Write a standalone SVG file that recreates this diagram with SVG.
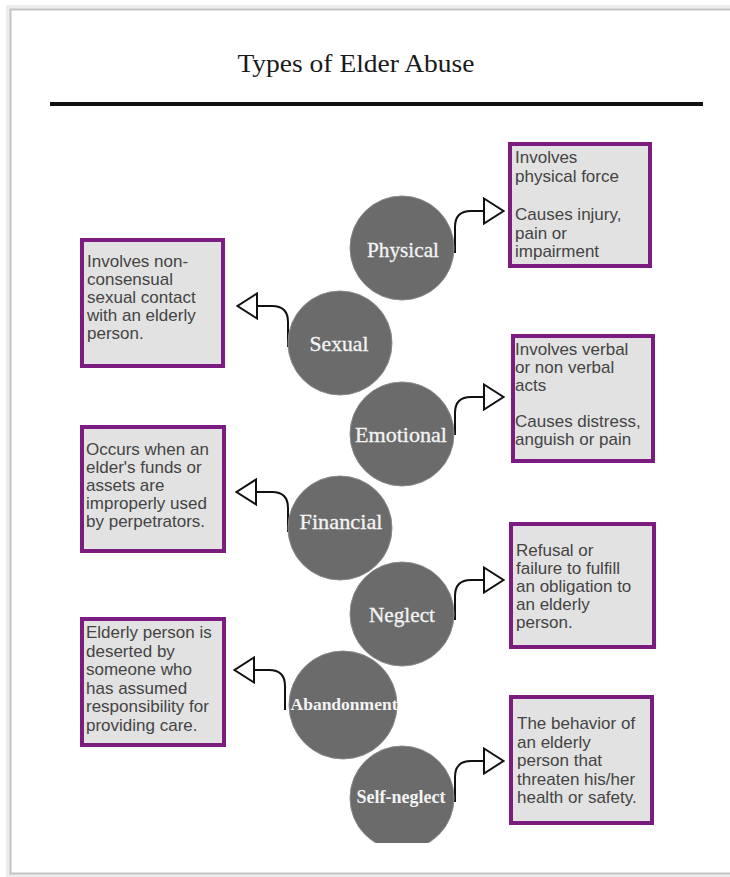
<svg xmlns="http://www.w3.org/2000/svg" width="730" height="877" viewBox="0 0 730 877">
<style>
.page{fill:#ffffff;stroke:#c4c4c4;stroke-width:2}
.title{font-family:"Liberation Serif","DejaVu Serif",serif;font-size:26px;fill:#1a1a1a;text-anchor:middle}
.rule{stroke:#111111;stroke-width:4}
.circ{fill:#6b6b6b;stroke:#8a8a8a;stroke-width:1}
.lbl{font-family:"Liberation Serif","DejaVu Serif",serif;font-size:21px;fill:#f4f4f4;text-anchor:middle;stroke:#f4f4f4;stroke-width:0.3}
.lblb{font-family:"Liberation Serif","DejaVu Serif",serif;font-weight:bold;fill:#f4f4f4;text-anchor:middle}
.box{fill:#e2e2e2;stroke:#7b1d80;stroke-width:4}
.txt{font-family:"Liberation Sans","Arimo",sans-serif;font-size:17px;fill:#444444}
.conn{fill:none;stroke:#111111;stroke-width:2}
</style>
<defs>
<marker id="tri" viewBox="0 0 22 28" refX="0" refY="14" markerWidth="22" markerHeight="28" markerUnits="userSpaceOnUse" orient="auto">
<path d="M1,1.5 L20.5,14 L1,26.5 Z" fill="#ffffff" stroke="#111111" stroke-width="2" stroke-linejoin="miter"/>
</marker>
<clipPath id="clipBottom"><rect x="0" y="0" width="730" height="843"/></clipPath>
</defs>

<rect x="0" y="0" width="730" height="877" fill="#ffffff"/>
<rect x="6" y="5" width="740" height="872" fill="#ededed"/>
<rect class="page" x="10.5" y="9.5" width="740" height="864"/>

<g id="title">
<text class="title" x="356" y="72" textLength="237" lengthAdjust="spacingAndGlyphs">Types of Elder Abuse</text>
<line class="rule" x1="50" y1="104" x2="703" y2="104"/>
</g>

<g id="connectors">
<path class="conn" marker-end="url(#tri)" d="M455,253 V227 Q455,211 471,211 H483"/>
<path class="conn" marker-end="url(#tri)" d="M288,347 V322 Q288,306 272,306 H258"/>
<path class="conn" marker-end="url(#tri)" d="M455,435 V413 Q455,397 471,397 H483"/>
<path class="conn" marker-end="url(#tri)" d="M288,532 V508 Q288,492 272,492 H257"/>
<path class="conn" marker-end="url(#tri)" d="M455,620 V596 Q455,580 471,580 H483"/>
<path class="conn" marker-end="url(#tri)" d="M285,710 V686 Q285,670 269,670 H255"/>
<path class="conn" marker-end="url(#tri)" d="M455,802 V777 Q455,761 471,761 H483"/>
</g>

<g id="physical">
<circle class="circ" cx="402" cy="248" r="52"/>
<text class="lbl" x="403" y="257" textLength="72" lengthAdjust="spacingAndGlyphs">Physical</text>
</g>
<g id="sexual">
<circle class="circ" cx="340" cy="343" r="52"/>
<text class="lbl" x="339" y="351" textLength="59" lengthAdjust="spacingAndGlyphs">Sexual</text>
</g>
<g id="emotional">
<circle class="circ" cx="402" cy="434" r="52"/>
<text class="lbl" x="401" y="442" textLength="92" lengthAdjust="spacingAndGlyphs">Emotional</text>
</g>
<g id="financial">
<circle class="circ" cx="340" cy="528" r="52"/>
<text class="lbl" x="341" y="529" textLength="83" lengthAdjust="spacingAndGlyphs">Financial</text>
</g>
<g id="neglect">
<circle class="circ" cx="402" cy="614" r="52"/>
<text class="lbl" x="402" y="622" textLength="66" lengthAdjust="spacingAndGlyphs">Neglect</text>
</g>
<g id="abandonment">
<circle class="circ" cx="343" cy="705" r="54"/>
<text class="lblb" x="344" y="710" font-size="17" textLength="107" lengthAdjust="spacingAndGlyphs">Abandonment</text>
</g>
<g id="self-neglect">
<circle class="circ" cx="402" cy="798" r="52" clip-path="url(#clipBottom)"/>
<text class="lblb" x="401" y="803" font-size="18" textLength="89" lengthAdjust="spacingAndGlyphs">Self-neglect</text>
</g>

<g id="box-physical">
<rect class="box" x="510" y="144" width="140" height="122"/>
<text class="txt"><tspan x="515" y="163">Involves</tspan><tspan x="515" y="182">physical force</tspan><tspan x="515" y="220">Causes injury,</tspan><tspan x="515" y="238.5">pain or</tspan><tspan x="515" y="257">impairment</tspan></text>
</g>
<g id="box-sexual">
<rect class="box" x="82" y="240" width="141" height="126"/>
<text class="txt"><tspan x="87" y="267">Involves non-</tspan><tspan x="87" y="285">consensual</tspan><tspan x="87" y="303">sexual contact</tspan><tspan x="87" y="321">with an elderly</tspan><tspan x="87" y="339">person.</tspan></text>
</g>
<g id="box-emotional">
<rect class="box" x="513" y="336" width="140" height="125"/>
<text class="txt"><tspan x="515" y="355">Involves verbal</tspan><tspan x="515" y="373">or non verbal</tspan><tspan x="515" y="391">acts</tspan><tspan x="515" y="427">Causes distress,</tspan><tspan x="515" y="445">anguish or pain</tspan></text>
</g>
<g id="box-financial">
<rect class="box" x="82" y="427" width="142" height="124"/>
<text class="txt"><tspan x="86" y="455">Occurs when an</tspan><tspan x="86" y="473">elder's funds or</tspan><tspan x="86" y="491">assets are</tspan><tspan x="86" y="509">improperly used</tspan><tspan x="86" y="527">by perpetrators.</tspan></text>
</g>
<g id="box-neglect">
<rect class="box" x="511" y="524" width="143" height="123"/>
<text class="txt"><tspan x="516" y="556">Refusal or</tspan><tspan x="516" y="574">failure to fulfill</tspan><tspan x="516" y="592">an obligation to</tspan><tspan x="516" y="610">an elderly</tspan><tspan x="516" y="628">person.</tspan></text>
</g>
<g id="box-abandonment">
<rect class="box" x="82" y="619" width="142" height="126"/>
<text class="txt"><tspan x="86" y="638">Elderly person is</tspan><tspan x="86" y="656.5">deserted by</tspan><tspan x="86" y="675">someone who</tspan><tspan x="86" y="693.5">has assumed</tspan><tspan x="86" y="712">responsibility for</tspan><tspan x="86" y="730.5">providing care.</tspan></text>
</g>
<g id="box-self-neglect">
<rect class="box" x="511" y="697" width="141" height="126"/>
<text class="txt"><tspan x="517" y="729">The behavior of</tspan><tspan x="517" y="747.5">an elderly</tspan><tspan x="517" y="766">person that</tspan><tspan x="517" y="784.5">threaten his/her</tspan><tspan x="517" y="803">health or safety.</tspan></text>
</g>
</svg>
